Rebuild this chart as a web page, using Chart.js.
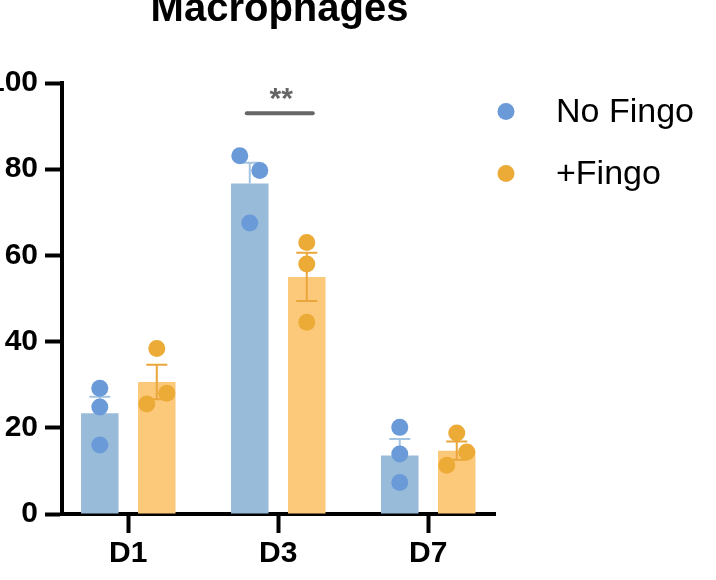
<!DOCTYPE html>
<html>
<head>
<meta charset="utf-8">
<script src="https://cdn.jsdelivr.net/npm/chart.js@4.4.1/dist/chart.umd.min.js"></script>
<style>
  html, body { margin: 0; padding: 0; background: #fff; }
  canvas { display: block; }
</style>
</head>
<body>
<canvas id="myChart" width="716" height="580"></canvas>
<script>
// data
var categories = ['D1', 'D3', 'D7'];
var seriesNames = ['No Fingo', '+Fingo'];
var noFingoMean = [23.4, 76.7, 13.6];
var fingoMean = [30.6, 55.0, 14.7];
var noFingoSem = [3.8, 4.8, 3.8];
var fingoSem = [4.0, 5.6, 2.1];
var noFingoPoints = [[29.2, 24.8, 16.0], [83.1, 79.7, 67.5], [20.1, 13.9, 7.3]];
var fingoPoints = [[38.4, 28.0, 25.5], [63.0, 58.0, 44.5], [18.8, 14.4, 11.3]];
var yTicks = [0, 20, 40, 60, 80, 100];
var sigLabel = '**';
var sigCategory = 1;   // D3
var sigValue = 93;

// look
var font = '"Liberation Sans", Arial, Helvetica, sans-serif';
var blueBar = '#98bbda', orangeBar = '#fcc97b';
var bluePt = '#6a9ad8', orangePt = '#ecab36';
var blueErr = '#a3c4e2', orangeErr = '#e9a63a';
var catPct = 0.76, barPct = 0.658;
var groupShift = catPct / 4;
var jitterStep = 0.0667;
var noFingoJitter = [[0, 0, 0], [-1, 1, 0], [0, 0, 0]];
var fingoJitter = [[0, 1, -1], [0, 0, 0], [0, 1, -1]];

function barData(means) {
  return means.map(function (v, i) { return { x: i + 1, y: v }; });
}
function pointData(points, side, jit) {
  var out = [];
  points.forEach(function (reps, i) {
    reps.forEach(function (v, j) {
      out.push({ x: i + 1 + side * groupShift + jit[i][j] * jitterStep, y: v });
    });
  });
  return out;
}

// mean +/- SEM; blue ones only show above the bar
var errorBars = {
  id: 'errorBars',
  afterDatasetDraw: function (chart, args) {
    var ds = chart.data.datasets[args.index];
    if (!ds.sem) return;
    var ctx = chart.ctx, y = chart.scales.y;
    ctx.save();
    ctx.lineWidth = 2;
    args.meta.data.forEach(function (bar, i) {
      var m = ds.data[i].y, e = ds.sem[i];
      var mid = y.getPixelForValue(m);
      var top = y.getPixelForValue(m + e), bot = y.getPixelForValue(m - e);
      ctx.strokeStyle = ds.errColor;
      ctx.beginPath();
      ctx.moveTo(bar.x, top); ctx.lineTo(bar.x, ds.upOnly ? mid : bot);
      ctx.moveTo(bar.x - 10.5, top); ctx.lineTo(bar.x + 10.5, top);
      if (!ds.upOnly) { ctx.moveTo(bar.x - 10.5, bot); ctx.lineTo(bar.x + 10.5, bot); }
      ctx.stroke();
    });
    ctx.restore();
  }
};

var decor = {
  id: 'decor',
  afterDraw: function (chart) {
    var ctx = chart.ctx, area = chart.chartArea, y = chart.scales.y;
    ctx.save();
    // title
    ctx.fillStyle = '#000';
    ctx.font = 'bold 40px ' + font;
    ctx.textAlign = 'center';
    ctx.textBaseline = 'alphabetic';
    ctx.fillText('Macrophages', (area.left + area.right) / 2 + 1, 21);

    // significance bar over D3
    var b0 = chart.getDatasetMeta(2).data[sigCategory];
    var b1 = chart.getDatasetMeta(3).data[sigCategory];
    var sy = y.getPixelForValue(sigValue);
    ctx.strokeStyle = '#666';
    ctx.lineWidth = 4;
    ctx.lineCap = 'round';
    ctx.beginPath();
    ctx.moveTo(b0.x - 3, sy);
    ctx.lineTo(b1.x + 6, sy);
    ctx.stroke();
    ctx.fillStyle = '#666';
    ctx.font = 'bold 30px ' + font;
    ctx.fillText(sigLabel, (b0.x + b1.x) / 2 + 3, sy - 5);

    // legend
    var cols = [bluePt, orangePt];
    ctx.textAlign = 'left';
    ctx.font = '34px ' + font;
    seriesNames.forEach(function (name, i) {
      var base = 121.5 + i * 62;
      ctx.fillStyle = cols[i];
      ctx.beginPath();
      ctx.arc(506, base - 10, 8.5, 0, Math.PI * 2);
      ctx.fill();
      ctx.fillStyle = '#000';
      ctx.fillText(name, 556, base);
    });
    ctx.restore();
  }
};

var myChart = new Chart(document.getElementById('myChart'), {
  type: 'bar',
  data: {
    datasets: [
      { type: 'scatter', label: seriesNames[0], data: pointData(noFingoPoints, -1, noFingoJitter),
        backgroundColor: bluePt, borderWidth: 0, pointRadius: 8.5, order: 0 },
      { type: 'scatter', label: seriesNames[1], data: pointData(fingoPoints, 1, fingoJitter),
        backgroundColor: orangePt, borderWidth: 0, pointRadius: 8.5, order: 0 },
      { label: seriesNames[0], data: barData(noFingoMean), sem: noFingoSem, errColor: blueErr, upOnly: true,
        backgroundColor: blueBar, borderWidth: 0, order: 1,
        categoryPercentage: catPct, barPercentage: barPct },
      { label: seriesNames[1], data: barData(fingoMean), sem: fingoSem, errColor: orangeErr,
        backgroundColor: orangeBar, borderWidth: 0, order: 1,
        categoryPercentage: catPct, barPercentage: barPct }
    ]
  },
  options: {
    responsive: false,
    animation: false,
    events: [],
    layout: { padding: { top: 83, right: 221, left: 0, bottom: 0 } },
    plugins: { legend: { display: false }, title: { display: false }, tooltip: { enabled: false } },
    scales: {
      x: {
        type: 'linear', min: 0.558, max: 3.445, offset: false,
        afterBuildTicks: function (s) { s.ticks = categories.map(function (c, i) { return { value: i + 1 }; }); },
        afterFit: function (s) { s.height = 66; },
        grid: { display: true, offset: false, drawOnChartArea: false, tickLength: 19, tickWidth: 4, tickColor: '#000' },
        border: { display: true, width: 4, color: '#000' },
        ticks: {
          callback: function (v) { return categories[Math.round(v) - 1]; },
          font: { family: font, size: 30, weight: 'bold' }, color: '#000',
          padding: 3, maxRotation: 0, autoSkip: false
        }
      },
      y: {
        min: 0, max: 100,
        afterBuildTicks: function (s) { s.ticks = yTicks.map(function (v) { return { value: v }; }); },
        afterFit: function (s) { s.width = 62; },
        grid: { display: true, drawOnChartArea: false, tickLength: 17, tickWidth: 4, tickColor: '#000' },
        border: { display: true, width: 4, color: '#000' },
        ticks: { font: { family: font, size: 30, weight: 'bold' }, color: '#000', padding: 7 }
      }
    }
  },
  plugins: [errorBars, decor]
});
</script>
</body>
</html>
